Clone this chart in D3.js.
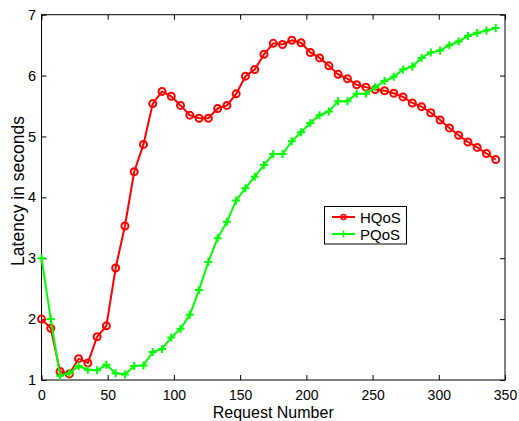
<!DOCTYPE html>
<html>
<head>
<meta charset="utf-8">
<script src="https://cdn.jsdelivr.net/npm/d3@7/dist/d3.min.js"></script>
<style>
  html, body { margin: 0; padding: 0; background: #fff; }
  svg { display: block; font-family: "Liberation Sans", Arial, sans-serif; }
</style>
</head>
<body>
<svg id="chart" width="519" height="421"></svg>
<script>
const requests = [0,7,14,21,28,35,42,49,56,63,70,77,84,91,98,105,112,119,126,133,140,147,154,161,168,175,182,189,196,203,210,217,224,231,238,245,252,259,266,273,280,287,294,301,308,315,322,329,336,343];
const hqos = [2.00,1.85,1.14,1.10,1.35,1.28,1.71,1.89,2.84,3.53,4.42,4.87,5.54,5.74,5.66,5.51,5.35,5.30,5.30,5.46,5.51,5.70,5.99,6.10,6.35,6.53,6.51,6.58,6.54,6.38,6.29,6.16,6.02,5.95,5.85,5.81,5.77,5.75,5.71,5.65,5.55,5.49,5.39,5.27,5.14,5.02,4.91,4.82,4.72,4.62];
const pqos = [3.00,2.00,1.07,1.11,1.23,1.17,1.16,1.25,1.11,1.09,1.23,1.24,1.46,1.51,1.70,1.84,2.07,2.48,2.94,3.33,3.60,3.95,4.15,4.34,4.53,4.71,4.71,4.92,5.07,5.22,5.35,5.41,5.58,5.58,5.70,5.70,5.81,5.91,5.98,6.10,6.15,6.29,6.38,6.41,6.50,6.56,6.65,6.70,6.74,6.78];
const xTicks = [0,50,100,150,200,250,300,350];
const yTicks = [1,2,3,4,5,6,7];
const seriesNames = ["HQoS","PQoS"];
const seriesColors = ["#ff0000","#00ff00"];

const svg = d3.select("#chart");
const L = 41.5, R = 505, T = 14.7, B = 380;
const x = d3.scaleLinear().domain([0,350]).range([L,R]);
const y = d3.scaleLinear().domain([1,7]).range([B,T]);

const fs = "14px";
const fmt = d3.format("d");
svg.append("g").attr("transform",`translate(0,${B})`)
  .call(d3.axisBottom(x).tickValues(xTicks).tickFormat(fmt).tickSizeInner(-5).tickSizeOuter(0).tickPadding(10))
  .call(g=>{g.select(".domain").remove(); g.selectAll("text").attr("font-size",fs).attr("font-family","Liberation Sans, Arial, sans-serif").attr("fill","#000");});
svg.append("g").attr("transform",`translate(0,${T})`)
  .call(d3.axisTop(x).tickValues(xTicks).tickSizeInner(-5).tickSizeOuter(0).tickFormat(""))
  .call(g=>g.select(".domain").remove());
svg.append("g").attr("transform",`translate(${L},0)`)
  .call(d3.axisLeft(y).tickValues(yTicks).tickFormat(fmt).tickSizeInner(-5).tickSizeOuter(0).tickPadding(5.5))
  .call(g=>{g.select(".domain").remove(); g.selectAll("text").attr("font-size","14.5px").attr("font-family","Liberation Sans, Arial, sans-serif").attr("fill","#000");});
svg.append("g").attr("transform",`translate(${R},0)`)
  .call(d3.axisRight(y).tickValues(yTicks).tickSizeInner(-5).tickSizeOuter(0).tickFormat(""))
  .call(g=>g.select(".domain").remove());
svg.selectAll(".tick line").attr("stroke","#000");

svg.append("rect").attr("x",L).attr("y",T).attr("width",R-L).attr("height",B-T)
  .attr("fill","none").attr("stroke","#000").attr("stroke-width",1);

const line = d3.line().x((d,i)=>x(requests[i])).y(d=>y(d));
const plot = svg.append("g");

function drawSeries(vals, color, marker){
  plot.append("path").datum(vals).attr("d",line).attr("fill","none").attr("stroke",color).attr("stroke-width",2);
  const g = plot.append("g");
  if(marker==="o"){
    g.selectAll("circle").data(vals).join("circle")
      .attr("cx",(d,i)=>x(requests[i])).attr("cy",d=>y(d)).attr("r",3.5)
      .attr("fill","none").attr("stroke",color).attr("stroke-width",2);
  } else {
    g.selectAll("path").data(vals).join("path")
      .attr("d",(d,i)=>{const cx=x(requests[i]),cy=y(d),s=4;return `M${cx-s},${cy}H${cx+s}M${cx},${cy-s}V${cy+s}`;})
      .attr("stroke",color).attr("stroke-width",2).attr("fill","none");
  }
}
drawSeries(hqos, seriesColors[0], "o");
drawSeries(pqos, seriesColors[1], "+");

svg.append("text").attr("x",(L+R)/2).attr("y",417.5).attr("text-anchor","middle")
  .attr("font-size","16px").text("Request Number");
svg.append("text").attr("transform",`translate(24,191) rotate(-90)`).attr("text-anchor","middle")
  .attr("font-size","17.5px").text("Latency in seconds");

const lg = svg.append("g");
lg.append("rect").attr("x",324.5).attr("y",206.5).attr("width",82).attr("height",37.5)
  .attr("fill","#fff").attr("stroke","#000").attr("stroke-width",1);
seriesNames.forEach((n,i)=>{
  const cy = 217 + i*17;
  lg.append("line").attr("x1",332).attr("x2",355).attr("y1",cy).attr("y2",cy).attr("stroke",seriesColors[i]).attr("stroke-width",2);
  if(i===0){
    lg.append("circle").attr("cx",343.5).attr("cy",cy).attr("r",2.5).attr("fill","none").attr("stroke",seriesColors[i]).attr("stroke-width",1.5);
  } else {
    lg.append("path").attr("d",`M${340},${cy}H${347}M${343.5},${cy-3.5}V${cy+3.5}`).attr("stroke",seriesColors[i]).attr("stroke-width",1.5);
  }
  lg.append("text").attr("x",360).attr("y",cy+5.5).attr("font-size","15px").text(n);
});
</script>
</body>
</html>
